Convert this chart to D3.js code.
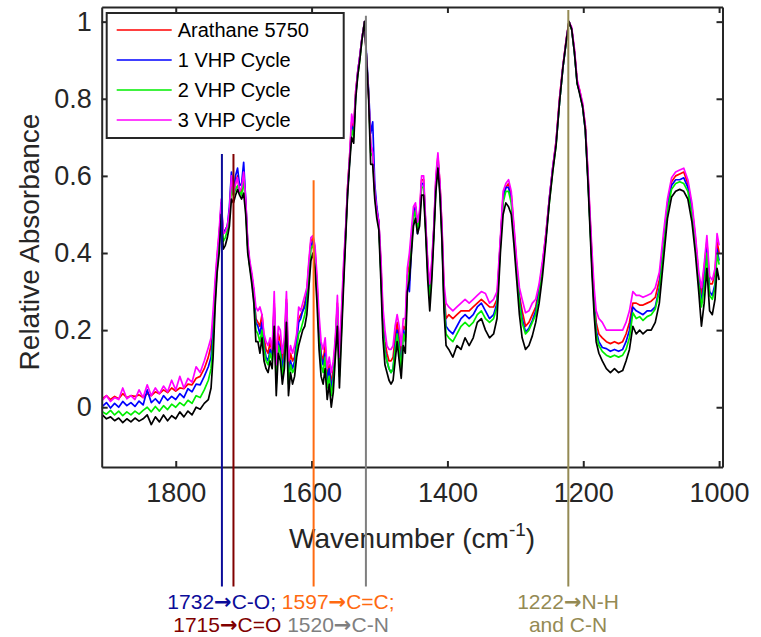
<!DOCTYPE html>
<html>
<head>
<meta charset="utf-8">
<script src="https://cdn.jsdelivr.net/npm/d3@7/dist/d3.min.js"></script>
<style>
  body { margin: 0; background: #ffffff; }
  text { font-family: "Liberation Sans", Arial, sans-serif; }
</style>
</head>
<body>
<div id="chart"></div>
<script>
//*************************0. Data

// wavenumber grid, cm-1 (descending, same for every trace)
const wavenumbers = [
  1908,1902,1896,1890,1884,1878,1872,1866,1860,1854,1848,1842,1836,1830,1824,1818,1812,1806,1800,1794,1788,1782,1776,1770,1764,1758,1752,
  1748,1745,1742,1739,1736,1733,1730,1727,1724,1721,1718,1715,1712,1709,1706,1703,1700,1697,1694,1691,1688,1685,1682,
  1679,1676,1673,1670,1667,1664,1661,1658,1655,1652,1649,1646,1643,1640,1637,1634,1631,1628,1625,1622,1619,1616,1613,1610,1607,1604,1601,1598,
  1595,1592,1589,1586,1583,1580,1577,1574,1571,1568,1565,1562,1559,1556,1553,1550,1547,1544,1541,1538,1535,1532,1529,1526,1522,1519,
  1516,1513,1510,1507,1504,1501,1498,1495,1492,1489,1486,1483,1480,1477,1474,1471,1468,1465,1462,1459,1456,1453,1450,1447,1444,1441,1438,1435,1432,1429,1426,1423,1420,1417,1414,1411,1408,1405,1402,
  1398,1392,1386,1380,1374,1368,1362,1356,1350,1344,1338,1332,
  1327,1322,1318,1314,1310,1306,1302,1298,1294,1290,1285,1280,1275,1270,1265,1260,
  1255,1250,1245,1240,1235,1230,1225,1221,1217,1213,1209,1205,1201,1197,1193,1190,1187,1184,1181,1177,
  1172,1166,1160,1154,1148,1142,1137,1132,1127,1122,1117,1112,1106,1100,1094,1088,1082,1076,1070,1064,1058,1052,1046,1040,1035,1030,1026,1022,1018,1014,1010,1006,1003,1000
]

// Arathane 5750 (red)
const arathane = [
  .023,.03,.02,.028,.022,.035,.025,.03,.028,.032,.025,.035,.03,.04,.035,.045,.038,.05,.042,.05,.048,.06,.058,.075,.08,.1,.13,
  .16,.22,.31,.39,.45,.52,.45,.46,.47,.50,.59,.55,.58,.60,.56,.56,.60,.53,.42,.37,.34,.30,.23,
  .22,.21,.24,.18,.15,.14,.17,.14,.27,.09,.19,.17,.12,.16,.28,.09,.14,.12,.13,.18,.23,.24,.25,.27,.30,.37,.43,.44,
  .41,.32,.21,.14,.12,.16,.08,.11,.06,.10,.17,.27,.11,.23,.35,.45,.57,.65,.74,.72,.82,.87,.91,.955,1,.90,
  .81,.68,.66,.56,.51,.48,.37,.24,.17,.14,.12,.12,.13,.18,.22,.18,.13,.21,.20,.34,.37,.44,.50,.52,.47,.50,.59,.59,.47,.37,.30,.37,.46,.59,.65,.58,.46,.30,.23,
  .24,.23,.24,.25,.25,.25,.26,.27,.28,.27,.26,.26,
  .28,.43,.55,.57,.58,.55,.46,.37,.29,.25,.21,.22,.24,.26,.31,.37,
  .45,.54,.62,.69,.80,.885,.955,1,.98,.925,.845,.82,.785,.73,.60,.49,.38,.29,.22,.19,
  .18,.17,.165,.17,.165,.17,.19,.22,.27,.27,.265,.265,.27,.275,.285,.33,.43,.53,.585,.60,.605,.61,.58,.52,.44,.34,.29,.36,.43,.32,.32,.35,.43,.40
]

// 1 VHP cycle (blue)
const vhp1 = [
  .002,.012,-.002,.01,0,.015,.004,.012,.002,.016,.006,.045,.012,.022,.01,.03,.018,.028,.02,.035,.025,.048,.04,.06,.058,.08,.105,
  .13,.20,.30,.38,.44,.53,.45,.46,.47,.52,.61,.56,.60,.62,.575,.58,.635,.54,.42,.37,.34,.30,.22,
  .21,.19,.22,.16,.13,.12,.15,.13,.26,.07,.17,.15,.10,.14,.27,.08,.12,.10,.12,.17,.22,.23,.25,.26,.29,.36,.42,.43,
  .40,.31,.20,.13,.11,.14,.07,.10,.05,.08,.16,.26,.10,.22,.34,.45,.56,.64,.73,.71,.81,.87,.91,.955,1,.91,
  .82,.71,.74,.58,.52,.48,.36,.22,.15,.12,.10,.09,.10,.16,.20,.16,.11,.20,.18,.33,.30,.41,.50,.52,.45,.49,.58,.58,.47,.36,.29,.36,.46,.58,.64,.57,.45,.28,.21,
  .20,.19,.21,.23,.24,.23,.24,.26,.27,.25,.23,.24,
  .27,.43,.54,.57,.57,.54,.45,.36,.28,.23,.195,.205,.225,.25,.30,.37,
  .44,.54,.62,.685,.79,.88,.95,1,.98,.92,.84,.815,.78,.72,.59,.48,.37,.27,.20,.17,
  .155,.152,.145,.15,.145,.15,.17,.20,.26,.25,.245,.24,.25,.25,.26,.31,.42,.52,.575,.59,.59,.595,.57,.51,.43,.33,.27,.33,.41,.30,.29,.32,.41,.38
]

// 2 VHP cycles (green)
const vhp2 = [
  -.012,-.018,-.008,-.02,-.01,-.022,-.012,-.02,-.01,-.018,-.008,0,-.012,.002,-.01,.004,-.006,.008,0,.012,.004,.018,.01,.03,.025,.045,.07,
  .10,.17,.28,.36,.42,.52,.43,.44,.46,.49,.57,.55,.565,.575,.56,.55,.59,.52,.41,.365,.33,.28,.20,
  .19,.17,.20,.15,.12,.11,.14,.12,.24,.06,.16,.14,.08,.12,.25,.06,.11,.09,.10,.15,.19,.20,.22,.24,.27,.34,.41,.42,
  .39,.30,.18,.11,.09,.13,.05,.08,.03,.07,.15,.25,.08,.20,.33,.44,.56,.64,.72,.70,.81,.86,.90,.95,1,.90,
  .81,.66,.65,.55,.50,.47,.35,.21,.14,.12,.10,.09,.10,.15,.19,.15,.10,.19,.17,.32,.35,.42,.49,.51,.46,.49,.57,.57,.46,.35,.28,.35,.45,.57,.63,.56,.44,.27,.19,
  .18,.17,.19,.21,.22,.21,.22,.24,.25,.23,.22,.23,
  .26,.42,.53,.56,.56,.53,.44,.35,.27,.22,.19,.20,.22,.24,.29,.36,
  .44,.53,.61,.68,.79,.88,.95,1,.98,.92,.84,.815,.78,.72,.59,.47,.36,.26,.19,.16,
  .145,.135,.13,.135,.13,.135,.15,.18,.245,.23,.235,.225,.235,.24,.255,.30,.41,.51,.565,.58,.585,.58,.56,.50,.42,.32,.26,.31,.40,.29,.28,.31,.40,.37
]

// 3 VHP cycles (magenta)
const vhp3 = [
  .018,.03,.015,.025,.02,.05,.022,.03,.02,.045,.025,.058,.03,.05,.035,.055,.04,.07,.045,.08,.05,.075,.065,.105,.09,.12,.155,
  .18,.25,.33,.40,.46,.54,.45,.455,.47,.51,.60,.555,.58,.595,.56,.57,.61,.54,.43,.38,.35,.31,.26,
  .25,.26,.24,.19,.17,.16,.18,.15,.30,.11,.21,.20,.14,.18,.30,.12,.16,.14,.16,.19,.26,.25,.27,.29,.31,.38,.44,.445,
  .42,.34,.24,.17,.15,.18,.10,.13,.09,.12,.18,.29,.13,.25,.37,.46,.57,.65,.76,.73,.82,.87,.91,.955,1,.90,
  .81,.685,.66,.56,.51,.48,.39,.26,.20,.16,.15,.15,.16,.21,.24,.21,.16,.23,.23,.36,.40,.46,.52,.53,.48,.51,.60,.60,.48,.38,.32,.38,.47,.60,.66,.58,.47,.32,.27,
  .26,.25,.26,.27,.28,.27,.28,.29,.30,.295,.27,.28,
  .30,.44,.56,.58,.59,.56,.47,.38,.31,.28,.245,.25,.27,.28,.32,.38,
  .45,.54,.62,.69,.80,.885,.955,1,.985,.93,.85,.82,.79,.73,.61,.50,.40,.31,.25,.23,
  .22,.20,.20,.20,.20,.20,.22,.25,.30,.29,.29,.285,.29,.295,.31,.35,.45,.54,.595,.61,.615,.62,.59,.53,.45,.35,.31,.37,.445,.34,.33,.36,.45,.42
]

// black trace (drawn, not in the legend)
const blackTrace = [
  -.02,-.03,-.025,-.035,-.028,-.04,-.03,-.038,-.028,-.036,-.03,-.02,-.045,-.025,-.038,-.02,-.035,-.022,-.03,-.012,-.025,-.01,-.02,0,-.005,.01,.02,
  .05,.13,.26,.35,.40,.50,.41,.42,.44,.47,.54,.53,.55,.565,.55,.54,.555,.50,.40,.36,.32,.27,.17,
  .17,.14,.18,.12,.10,.09,.12,.10,.21,.03,.14,.12,.06,.10,.22,.03,.09,.06,.08,.13,.16,.18,.20,.21,.24,.31,.38,.40,
  .36,.27,.15,.08,.06,.10,.02,.06,0,.04,.13,.21,.05,.18,.31,.43,.55,.63,.70,.685,.80,.86,.90,.95,1,.90,
  .80,.63,.63,.54,.49,.46,.33,.18,.11,.09,.07,.06,.07,.12,.17,.12,.075,.16,.14,.30,.33,.40,.47,.49,.45,.47,.55,.55,.45,.33,.25,.33,.44,.56,.62,.55,.43,.25,.16,
  .15,.13,.16,.15,.18,.16,.18,.22,.23,.20,.18,.19,
  .23,.40,.50,.53,.52,.50,.42,.33,.24,.18,.15,.16,.185,.22,.27,.34,
  .43,.53,.61,.68,.79,.88,.95,1,.98,.92,.84,.81,.78,.72,.58,.46,.34,.24,.17,.14,
  .12,.10,.09,.10,.09,.095,.12,.15,.21,.19,.20,.19,.20,.20,.22,.27,.38,.49,.545,.56,.565,.56,.54,.48,.40,.30,.21,.27,.36,.25,.24,.28,.36,.33
]

const legendLabels = ["Arathane 5750", "1 VHP Cycle", "2 VHP Cycle", "3 VHP Cycle"]
const xTicks = [1800, 1600, 1400, 1200, 1000]
const yTicks = [0, 0.2, 0.4, 0.6, 0.8, 1]

// band assignments marked under the chart: [wavenumber, group] and note pieces
const bandWavenumbers = [1732, 1715, 1597, 1520, 1222]
const bandNotes = [
  ["1732", "C-O;"],
  ["1715", "C=O"],
  ["1597", "C=C;"],
  ["1520", "C-N"],
  ["1222", "N-H"]
]
const bandNoteExtra = "and C-N"

async function draw() {

//*************************1. Dimensions

    const dimensions = {
        width: 761,
        height: 637,
        margin: {
            top: 7,
            right: 38.5,
            bottom: 170,
            left: 101.7
        }
    }

    dimensions.boundedWidth = dimensions.width
        - dimensions.margin.left
        - dimensions.margin.right

    dimensions.boundedHeight = dimensions.height
        - dimensions.margin.top
        - dimensions.margin.bottom

//*************************2. Wrapper and Bounds

    const wrapper = d3.select("#chart")
        .append("svg")
        .attr("width", dimensions.width)
        .attr("height", dimensions.height)
        .style("display", "block")
        .style("background", "#ffffff")

    const bounds = wrapper.append("g")
        .attr("transform", `translate(${dimensions.margin.left},${dimensions.margin.top})`)

    bounds.append("defs").append("clipPath")
        .attr("id", "plot-clip")
        .append("rect")
        .attr("width", dimensions.boundedWidth)
        .attr("height", dimensions.boundedHeight)

//*************************3. Series and accessors

    const traces = [
        {name: legendLabels[0], values: arathane, color: "#ff0000"},
        {name: legendLabels[1], values: vhp1, color: "#0000ff"},
        {name: legendLabels[2], values: vhp2, color: "#00ee00"},
        {name: legendLabels[3], values: vhp3, color: "#ff00ff"},
        {name: "", values: blackTrace, color: "#000000"}
    ]

    const wnAccessor = d => d.wn
    const absAccessor = d => d.abs

    const toPoints = values => wavenumbers.map((wn, i) => ({wn: wn, abs: values[i]}))

//*************************4. Scales

    const xScale = d3.scaleLinear()
        .domain([1909, 995])
        .range([0, dimensions.boundedWidth])

    const yScale = d3.scaleLinear()
        .domain([-0.155, 1.038])
        .range([dimensions.boundedHeight, 0])

//*************************5. Spectra

    const lineGenerator = d3.line()
        .x(d => xScale(wnAccessor(d)))
        .y(d => yScale(absAccessor(d)))

    bounds.append("g")
        .attr("clip-path", "url(#plot-clip)")
        .selectAll("path")
        .data(traces)
        .join("path")
        .attr("d", d => lineGenerator(toPoints(d.values)))
        .attr("fill", "none")
        .attr("stroke", d => d.color)
        .attr("stroke-width", 1.7)
        .attr("stroke-linejoin", "round")

//*************************6. Axes (box with inward ticks)

    const axisColor = "#262626"

    const xAxisBottom = bounds.append("g")
        .attr("transform", `translate(0,${dimensions.boundedHeight})`)
        .call(d3.axisBottom(xScale).tickValues(xTicks).tickSize(-6).tickSizeOuter(0)
            .tickPadding(16).tickFormat(d3.format("d")))

    const xAxisTop = bounds.append("g")
        .call(d3.axisTop(xScale).tickValues(xTicks).tickSize(-6).tickSizeOuter(0).tickFormat(""))

    const yAxisLeft = bounds.append("g")
        .call(d3.axisLeft(yScale).tickValues(yTicks).tickSize(-6).tickSizeOuter(0)
            .tickPadding(10).tickFormat(d => d3.format("~g")(d)))

    const yAxisRight = bounds.append("g")
        .attr("transform", `translate(${dimensions.boundedWidth},0)`)
        .call(d3.axisRight(yScale).tickValues(yTicks).tickSize(-6).tickSizeOuter(0).tickFormat(""))

    ;[xAxisBottom, xAxisTop, yAxisLeft, yAxisRight].forEach(axis => {
        axis.attr("color", axisColor)
        axis.select(".domain").attr("stroke-width", 2)
        axis.selectAll(".tick line").attr("stroke-width", 2)
        axis.selectAll(".tick text")
            .attr("font-size", 27)
            .attr("font-family", "Liberation Sans, Arial, sans-serif")
            .attr("fill", axisColor)
    })

//*************************7. Axis titles

    const xLabel = bounds.append("text")
        .attr("x", dimensions.boundedWidth / 2)
        .attr("y", dimensions.boundedHeight + 81)
        .attr("text-anchor", "middle")
        .attr("font-size", 28)
        .attr("fill", axisColor)
    xLabel.append("tspan").text("Wavenumber (cm")
    xLabel.append("tspan").text("-1").attr("font-size", 19).attr("dy", -12)
    xLabel.append("tspan").text(")").attr("dy", 12)

    bounds.append("text")
        .attr("transform", `translate(${39 - dimensions.margin.left},${dimensions.boundedHeight / 2 + 5}) rotate(-90)`)
        .attr("text-anchor", "middle")
        .attr("font-size", 28)
        .attr("fill", axisColor)
        .text("Relative Absorbance")

//*************************8. Legend

    const legend = bounds.append("g")
        .attr("transform", "translate(5,6)")

    legend.append("rect")
        .attr("width", 237)
        .attr("height", 125)
        .attr("fill", "#ffffff")
        .attr("stroke", axisColor)
        .attr("stroke-width", 2)

    const legendItems = legend.selectAll(".legend-item")
        .data(traces.filter(d => d.name !== ""))
        .join("g")
        .attr("class", "legend-item")
        .attr("transform", (d, i) => `translate(0,${17 + i * 30})`)

    legendItems.append("line")
        .attr("x1", 10)
        .attr("x2", 65)
        .attr("stroke", d => d.color)
        .attr("stroke-width", 1.7)

    legendItems.append("text")
        .attr("x", 71)
        .attr("dy", "0.35em")
        .attr("font-size", 20)
        .attr("fill", "#000000")
        .text(d => d.name)

//*************************9. Band markers and notes

    const bandColors = ["#0c0c99", "#800000", "#ff6a10", "#7f7f7f", "#948a54"]
    const bandTop = [0.657, 0.657, 0.589, 1.015, 1.03]   // absorbance where each marker starts
    const bandBottom = -0.465

    bounds.selectAll(".band-line")
        .data(bandWavenumbers)
        .join("line")
        .attr("class", "band-line")
        .attr("x1", d => xScale(d))
        .attr("x2", d => xScale(d))
        .attr("y1", (d, i) => yScale(bandTop[i]))
        .attr("y2", yScale(bandBottom))
        .attr("stroke", (d, i) => bandColors[i])
        .attr("stroke-width", 2)

    const notes = wrapper.append("g")
        .attr("font-size", 21)

    // each row: centre x, baseline y, list of [band index | text, colour]
    const noteRows = [
        {x: 281, y: 609, parts: [0, 2]},
        {x: 281, y: 632, parts: [1, 3]},
        {x: 568, y: 609, parts: [4]},
        {x: 568, y: 632, parts: []}
    ]

    noteRows.forEach(row => {
        const t = notes.append("text")
            .attr("x", row.x)
            .attr("y", row.y)
            .attr("text-anchor", "middle")
            .attr("xml:space", "preserve")
        row.parts.forEach((bi, k) => {
            const c = bandColors[bi]
            t.append("tspan").attr("fill", c).text((k > 0 ? " " : "") + bandNotes[bi][0])
            t.append("tspan").attr("fill", c)
                .attr("font-family", "DejaVu Sans, sans-serif")
                .attr("font-weight", "bold")
                .text("\u2192")
            t.append("tspan").attr("fill", c).text(bandNotes[bi][1])
        })
        if (row.parts.length === 0) {
            t.append("tspan").attr("fill", bandColors[4]).text(bandNoteExtra)
        }
    })

} draw()
</script>
</body>
</html>
